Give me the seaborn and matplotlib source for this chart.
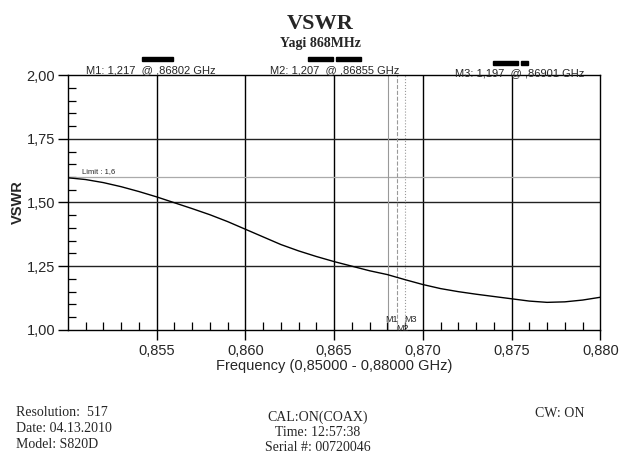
import matplotlib
matplotlib.use("Agg")
import matplotlib.pyplot as plt
import seaborn as sns
import numpy as np
import pandas as pd
from matplotlib.patches import Rectangle
from matplotlib.ticker import FixedLocator, FuncFormatter

# dados
freq = [0.850, 0.851, 0.852, 0.853, 0.854, 0.855, 0.856, 0.857, 0.858, 0.859,
        0.860, 0.861, 0.862, 0.863, 0.864, 0.865, 0.866, 0.867, 0.868, 0.869,
        0.870, 0.871, 0.872, 0.873, 0.874, 0.875, 0.876, 0.877, 0.878, 0.879, 0.880]
vswr = [1.597, 1.590, 1.578, 1.562, 1.543, 1.522, 1.499, 1.476, 1.452, 1.425,
        1.395, 1.365, 1.335, 1.310, 1.288, 1.268, 1.250, 1.232, 1.217, 1.197,
        1.178, 1.162, 1.150, 1.140, 1.131, 1.122, 1.113, 1.108, 1.110, 1.117, 1.128]

marker_names = ["M1", "M2", "M3"]
marker_freq = [0.86802, 0.86855, 0.86901]
marker_vswr = [1.217, 1.207, 1.197]
limit = 1.6

x_ticks = [0.855, 0.860, 0.865, 0.870, 0.875, 0.880]
y_ticks = [1.00, 1.25, 1.50, 1.75, 2.00]

df = pd.DataFrame({"freq": freq, "vswr": vswr})

sns.set_style("white")
plt.rcParams["font.family"] = ["Liberation Sans", "DejaVu Sans"]

fig = plt.figure(figsize=(6.4, 4.55), dpi=100)
ax = fig.add_axes([0.106, 0.275, 0.832, 0.56])

# grade
for x in x_ticks[:-1]:
    ax.axvline(x, color="black", lw=1.0, zorder=1)
for y in y_ticks[1:-1]:
    ax.axhline(y, color="#222222", lw=1.0, zorder=1)
ax.axhline(limit, color="#aaaaaa", lw=0.9, zorder=1)
ax.text(0.8508, limit + 0.008, "Limit : 1,6", fontsize=5.5, va="bottom")

# marcadores
estilos = ["-", "--", ":"]
for nome, f, est in zip(marker_names, marker_freq, estilos):
    ax.axvline(f, color="#999999", lw=0.8, ls=est, zorder=1)
ax.text(marker_freq[0] + 0.0002, 1.024, "M1", fontsize=6.5, ha="center", va="bottom")
ax.text(marker_freq[1] + 0.0003, 1.004, "M2", fontsize=6.5, ha="center", va="center")
ax.text(marker_freq[2] + 0.0003, 1.024, "M3", fontsize=6.5, ha="center", va="bottom")

sns.lineplot(data=df, x="freq", y="vswr", color="black", lw=1.0, ax=ax, zorder=3)

ax.set_xlim(0.850, 0.880)
ax.set_ylim(1.0, 2.0)
ax.xaxis.set_major_locator(FixedLocator(x_ticks))
ax.yaxis.set_major_locator(FixedLocator(y_ticks))
minx = [round(0.850 + i * 0.001, 3) for i in range(31)]
minx = [m for m in minx if not any(abs(m - t) < 1e-6 for t in x_ticks + [0.850])]
ax.xaxis.set_minor_locator(FixedLocator(minx))
miny = [round(1.0 + i * 0.05, 2) for i in range(21)]
miny = [m for m in miny if not any(abs(m - t) < 1e-6 for t in y_ticks)]
ax.yaxis.set_minor_locator(FixedLocator(miny))
ax.xaxis.set_major_formatter(FuncFormatter(lambda v, p: f"{v:.3f}".replace(".", ",")))
ax.yaxis.set_major_formatter(FuncFormatter(lambda v, p: f"{v:.2f}".replace(".", ",")))
ax.tick_params(axis="both", which="major", direction="out", length=7, width=1,
               labelsize=10.5, bottom=True, left=True, color="black")
ax.tick_params(axis="both", which="minor", direction="in", length=6, width=0.9,
               bottom=True, left=True, color="black")
ax.tick_params(axis="x", which="major", pad=3)
ax.tick_params(axis="y", which="major", pad=2)

for s in ax.spines.values():
    s.set_color("black")
    s.set_linewidth(1.0)

ax.set_xlabel("Frequency (0,85000 - 0,88000 GHz)", fontsize=10.5, labelpad=1)
ax.set_ylabel("VSWR", fontsize=10.5, fontweight="bold", labelpad=1)

# titulo
serif = ["Liberation Serif", "DejaVu Serif"]
fig.text(0.5, 0.948, "VSWR", ha="center", va="center", fontsize=16,
         fontweight="bold", family=serif)
fig.text(0.5, 0.905, "Yagi 868MHz", ha="center", va="center", fontsize=10,
         fontweight="bold", family=serif)

# textos dos marcadores
pos_txt = [(0.235, 0.834), (0.523, 0.834), (0.812, 0.829)]
for nome, f, v, (px, py) in zip(marker_names, marker_freq, marker_vswr, pos_txt):
    txt = f"{nome}: {v:.3f}  @ {f:.5f} GHz".replace("0.", ",").replace(".", ",")
    fig.text(px, py, txt, ha="center", va="bottom", fontsize=8)

# barras pretas
barras = [(142, 57, 31), (308, 57, 25), (336, 57, 25), (493, 61, 25), (521, 61, 7)]
for bx, by, bw in barras:
    fig.add_artist(Rectangle((bx / 640, 1 - (by + 4) / 455), bw / 640, 4 / 455,
                             transform=fig.transFigure, color="black"))

# rodape
fig.text(0.025, 0.058, "Resolution:  517\nDate: 04.13.2010\nModel: S820D",
         ha="left", va="center", fontsize=10, family=serif, linespacing=1.27)
fig.text(0.497, 0.050, "CAL:ON(COAX)\nTime: 12:57:38\nSerial #: 00720046",
         ha="center", va="center", fontsize=10, family=serif, linespacing=1.2)
fig.text(0.875, 0.092, "CW: ON", ha="center", va="center", fontsize=10, family=serif)

fig.savefig("out.png", dpi=100)
